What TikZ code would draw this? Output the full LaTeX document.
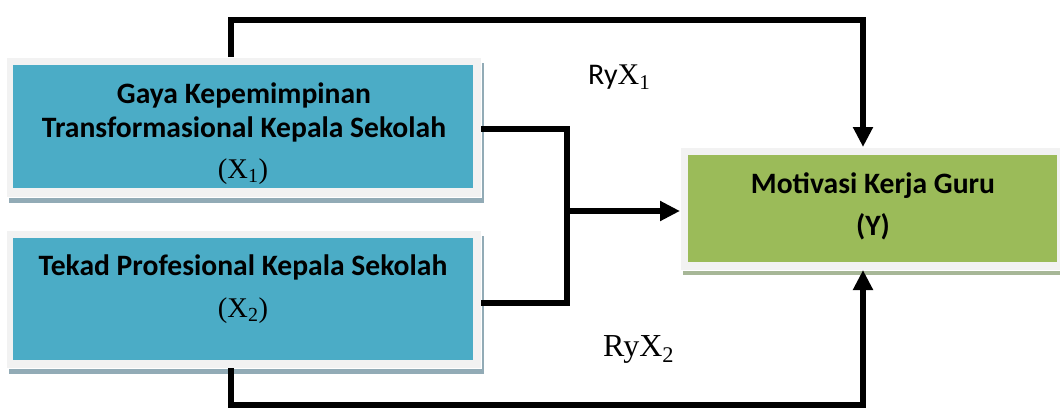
\documentclass[tikz,border=0pt]{standalone}
\usepackage{fontspec}
\setmainfont{Liberation Serif}
\newfontfamily\carlito{Carlito}
\usetikzlibrary{arrows.meta}
\definecolor{cyanbox}{HTML}{4BACC6}
\definecolor{greenbox}{HTML}{9BBB59}
\definecolor{framegray}{HTML}{F2F2F2}
\definecolor{shadowblue}{HTML}{92ABB6}
\definecolor{shadowgreen}{HTML}{A7B797}
\begin{document}
\begin{tikzpicture}[x=1pt,y=-1pt,
  boxpart/.style={anchor=north west, inner sep=0pt, outer sep=0pt},
  frame/.style={boxpart, draw=white, line width=0.8pt, fill=framegray},
  shadowbox/.style={boxpart, fill=#1},
  colorbox/.style={boxpart, fill=#1},
  conn/.style={line width=6pt, black},
  tip/.style={-{Triangle[length=20pt,width=19pt]}},
  lab/.style={font=\carlito\bfseries\fontsize{29.6}{34}\selectfont, anchor=base, inner sep=0pt},
  var/.style={font=\fontsize{28.5}{34}\selectfont, anchor=base, inner sep=0pt},
  coef/.style={font=\fontsize{30}{36}\selectfont, anchor=base west, inner sep=0pt}]
\fill[white] (0,0) rectangle (1060,410);
\useasboundingbox (0,0) rectangle (1060,410);

% box X1
\node[shadowbox=shadowblue, minimum width=475pt, minimum height=140pt] (s1) at (9,63) {};
\node[frame, minimum width=475pt, minimum height=140pt] (f1) at (6,57) {};
\node[colorbox=cyanbox, minimum width=460pt, minimum height=123pt] (c1) at (13,65) {};
\node[lab] (t1a) at (244,103) {Gaya Kepemimpinan};
\node[lab] (t1b) at (244,137) {Transformasional Kepala Sekolah};
\node[var] (t1c) at (243,178) {(X\textsubscript{1})};

% box X2
\node[shadowbox=shadowblue, minimum width=475pt, minimum height=138pt] (s2) at (9,236) {};
\node[frame, minimum width=475pt, minimum height=138pt] (f2) at (6,230) {};
\node[colorbox=cyanbox, minimum width=460pt, minimum height=122pt] (c2) at (13,238) {};
\node[lab] (t2a) at (243,275) {Tekad Profesional Kepala Sekolah};
\node[var] (t2b) at (243,317) {(X\textsubscript{2})};

% box Y
\node[shadowbox=shadowgreen, minimum width=384pt, minimum height=123pt] (sy) at (683,152) {};
\node[frame, minimum width=384pt, minimum height=123pt] (fy) at (680,147) {};
\node[colorbox=greenbox, minimum width=369pt, minimum height=107pt] (cy) at (688,155) {};
\node[lab] (tya) at (873,193) {Motivasi Kerja Guru};
\node[lab] (tyb) at (873,235) {(Y)};

% connectors
\coordinate (tl) at (231,20);
\coordinate (tr) at (863,20);
\coordinate (bl) at (231,405);
\coordinate (br) at (863,405);
\coordinate (j1) at (567,129);
\coordinate (j2) at (567,303);
\coordinate (jm) at (567,211);

\draw[conn, tip] (tl |- f1.north) -- (tl) -- (tr) -- (tr |- fy.north);
\draw[conn, tip] (bl |- f2.south) -- (bl) -- (br) -- (br |- fy.south);
\draw[conn] (f1.east |- j1) -- (j1) -- (j2) -- (f2.east |- j2);
\draw[conn, tip] (jm) -- (jm -| fy.west);

% labels
\node[coef] (r1) at (588,84) {{\carlito Ry}X\textsubscript{1}};
\node[coef, font=\fontsize{32}{38}\selectfont] (r2) at (603,356) {RyX\textsubscript{2}};
\end{tikzpicture}
\end{document}
